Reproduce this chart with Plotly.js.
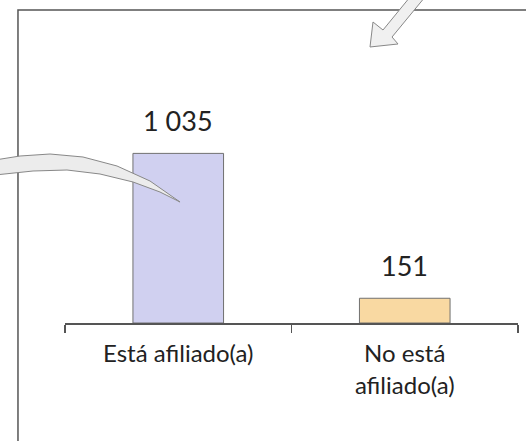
<!DOCTYPE html>
<html>
<head>
<meta charset="utf-8">
<script src="https://cdn.plot.ly/plotly-3.0.1.min.js"></script>
<style>html,body{margin:0;padding:0;background:#fff;}#chart{width:526px;height:441px;}</style>
</head>
<body>
<div id="chart"></div>
<script>
var categories = ["Está afiliado(a)", "No está<br>afiliado(a)"];
var values = [1035, 151];
var barColors = ["#d0d0f0", "#f9d9a2"];

var W = 526, H = 441;
var M = {l: 65, r: 8, t: 10, b: 118};
var PW = W - M.l - M.r, PH = H - M.t - M.b;
function px(x){ return ((x - M.l) / PW).toFixed(4); }
function py(y){ return ((H - M.b - y) / PH).toFixed(4); }
function pathFrom(pts, closed){
  var s = pts.map(function(p, i){ return (i ? "L" : "M") + px(p[0]) + "," + py(p[1]); }).join(" ");
  return s + (closed ? " Z" : "");
}
function fmt(v){ return String(v).replace(/\B(?=(\d{3})+(?!\d))/g, " "); }

var trace = {
  type: "bar",
  x: categories,
  y: values,
  width: 0.4,
  marker: {color: barColors, line: {color: "#707070", width: 1}},
  hoverinfo: "none"
};

var annotations = categories.map(function(c, i){
  return {x: c, y: values[i], xref: "x", yref: "y", text: fmt(values[i]),
    showarrow: false, yanchor: "bottom", yshift: 14,
    font: {family: "Lato, 'Open Sans', sans-serif", size: 27, color: "#222"}};
});

// decorative arrows and frame (pixel outline converted to paper units)
var leftArrow = [[-5,160],[20,156],[50,154],[83,157],[117,166],[150,181],[180,202],
                 [160,192],[133,182],[100,174],[67,170],[33,171],[-5,175]];
var topArrow = [[370,47],[373,22],[383,30],[410,-3],[425,-3],[392,37],[398,44]];

var shapes = [
  {type: "path", xref: "paper", yref: "paper", path: pathFrom([[18,540],[18,10],[540,10]], false),
   line: {color: "#555", width: 1.5}},
  {type: "path", xref: "paper", yref: "paper", path: pathFrom(leftArrow, true),
   fillcolor: "#ececec", line: {color: "#888", width: 1}},
  {type: "path", xref: "paper", yref: "paper", path: pathFrom(topArrow, true),
   fillcolor: "#f0f0f0", line: {color: "#888", width: 1}}
];

var layout = {
  width: W, height: H,
  margin: M,
  paper_bgcolor: "#fff", plot_bgcolor: "rgba(0,0,0,0)",
  showlegend: false,
  font: {family: "Lato, 'Open Sans', sans-serif", color: "#222"},
  xaxis: {
    type: "category", range: [-0.5, 1.5], showgrid: false, zeroline: false,
    showline: true, linecolor: "#555", linewidth: 1.5,
    ticks: "outside", tickson: "boundaries", ticklen: 8, tickcolor: "#555", tickwidth: 1.5,
    ticklabelstandoff: 9,
    tickfont: {family: "Lato, 'Open Sans', sans-serif", size: 24, color: "#222"},
    fixedrange: true
  },
  yaxis: {range: [0, 1910], visible: false, fixedrange: true},
  annotations: annotations,
  shapes: shapes
};

Plotly.newPlot("chart", [trace], layout, {displayModeBar: false, staticPlot: true});
</script>
</body>
</html>
